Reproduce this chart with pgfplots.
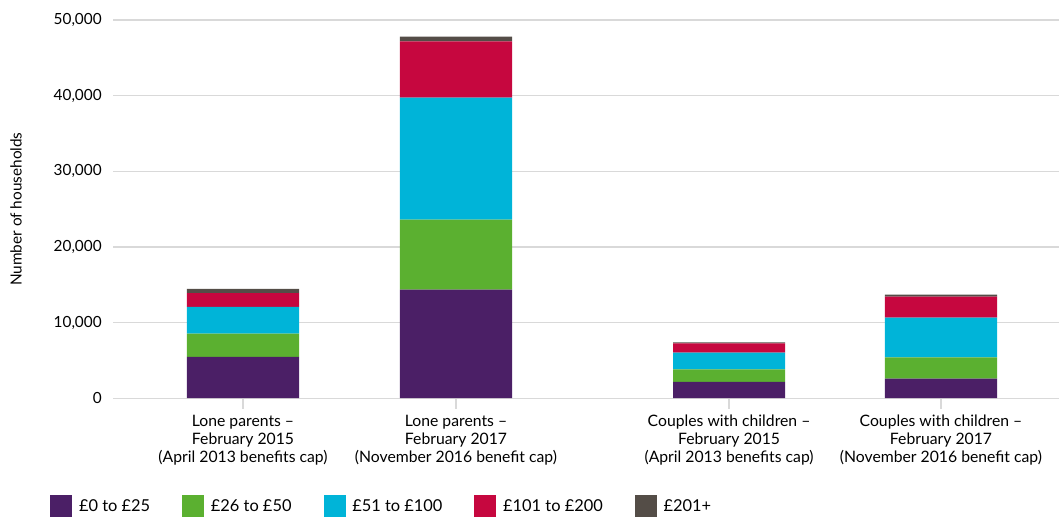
\documentclass[border=0pt]{standalone}
\usepackage{pgfplots}
\pgfplotsset{compat=1.18}
\usepackage{fontspec}
\setmainfont{Lato}
\definecolor{cPurple}{HTML}{4B1F66}
\definecolor{cGreen}{HTML}{5BB030}
\definecolor{cCyan}{HTML}{00B4D8}
\definecolor{cRed}{HTML}{C6073F}
\definecolor{cDark}{HTML}{544D47}
\definecolor{cGrid}{HTML}{D9D9D9}
\begin{document}
\begin{tikzpicture}
\begin{axis}[
  scale only axis,
  width=709pt, height=283.5pt,
  ybar stacked,
  bar width=84pt,
  xmin=-0.61, xmax=3.831,
  ymin=0, ymax=50000,
  ytick={0,10000,20000,30000,40000,50000},
  scaled y ticks=false,
  /pgf/number format/assume math mode=true,
  yticklabel={\pgfmathprintnumber[1000 sep={,}]{\tick}},
  xtick={0,1,2.282,3.277},
  xtick pos=lower,
  xticklabels={{Lone parents --\\February 2015\\(April 2013 benefits cap)},
               {Lone parents --\\February 2017\\(November 2016 benefit cap)},
               {Couples with children --\\February 2015\\(April 2013 benefits cap)},
               {Couples with children --\\February 2017\\(November 2016 benefit cap)}},
  xticklabel style={align=center, font=\fontsize{11.8}{13.5}\selectfont, yshift=-1pt},
  yticklabel style={font=\fontsize{11.5}{12}\selectfont, xshift=-5pt},
  ymajorgrids,
  grid style={cGrid, line width=1pt},
  axis line style={draw=none},
  xtick align=outside,
  major tick length=8pt,
  xtick style={cGrid, line width=1pt},
  ytick style={draw=none},
  ylabel={Number of households},
  every axis y label/.style={at={(rel axis cs:-0.1025,0.5)}, rotate=90, anchor=center, font=\fontsize{11.5}{12}\selectfont},
  legend columns=5,
  legend style={draw=none, at={(rel axis cs:-0.0708,-0.2857)}, anchor=west,
    font=\fontsize{12.3}{13}\selectfont,
    /tikz/every odd column/.append style={column sep=3pt},
    /tikz/every even column/.append style={column sep=22pt}},
  legend image code/.code={\fill[#1] (0pt,-8.25pt) rectangle (16.5pt,8.25pt);},
]
\addplot[fill=cPurple, draw=none] coordinates {(0,5460) (1,14350) (2.282,2180) (3.277,2580)};
\addplot[fill=cGreen, draw=none] coordinates {(0,3080) (1,9250) (2.282,1630) (3.277,2820)};
\addplot[fill=cCyan, draw=none] coordinates {(0,3540) (1,16150) (2.282,2210) (3.277,5250)};
\addplot[fill=cRed, draw=none] coordinates {(0,1810) (1,7410) (2.282,1230) (3.277,2780)};
\addplot[fill=cDark, draw=none] coordinates {(0,570) (1,640) (2.282,130) (3.277,260)};
\legend{£0 to £25, £26 to £50, £51 to £100, £101 to £200, £201+}
\end{axis}
\pgfresetboundingbox
\path[use as bounding box] (-84.75pt,-88.5pt) rectangle (709pt,298.5pt);
\end{tikzpicture}
\end{document}
